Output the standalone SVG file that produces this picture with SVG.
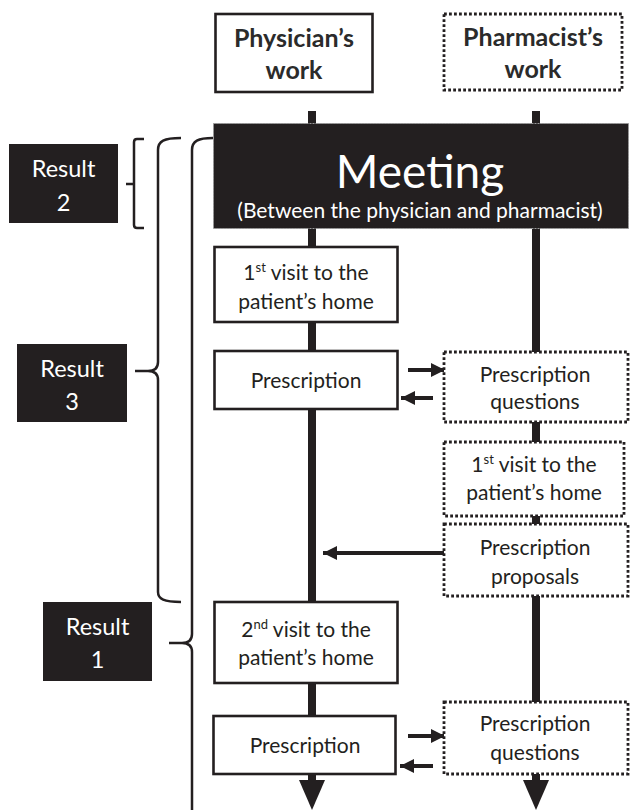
<svg xmlns="http://www.w3.org/2000/svg" width="631" height="810" viewBox="0 0 631 810">
<defs>
<style>
.t{font-family:Lato,"Liberation Sans",sans-serif;fill:#231f20;text-anchor:middle;font-size:21px}
.b{font-weight:bold;font-size:25px;fill:#2b2b2b}
.w{fill:#ffffff}
.r{font-size:23.5px}
.solid{fill:#ffffff;stroke:#231f20;stroke-width:2.6}
.dot{fill:#ffffff;stroke:#231f20;stroke-width:2.8;stroke-dasharray:2.8 2.2}
.dark{fill:#231f20}
.flow{stroke:#231f20;stroke-width:8;fill:none}
.arr{stroke:#231f20;stroke-width:4;fill:none;marker-end:url(#ah)}
.br{stroke:#231f20;stroke-width:2.5;fill:none}
</style>
<marker id="ah" markerUnits="userSpaceOnUse" markerWidth="16" markerHeight="16" refX="14" refY="7" orient="auto">
<path d="M0,0 L14,7 L0,14 Z" fill="#231f20"/>
</marker>
</defs>
<rect width="631" height="810" fill="#ffffff"/>

<g id="connectors">
<line class="flow" x1="312" y1="111" x2="312" y2="782"/>
<line class="flow" x1="536" y1="111" x2="536" y2="782"/>
<polygon class="dark" points="299,780 325,780 312,810"/>
<polygon class="dark" points="523,780 549,780 536,810"/>
<line class="arr" x1="408" y1="370" x2="445" y2="370"/>
<line class="arr" x1="433" y1="398" x2="401" y2="398"/>
<line class="arr" x1="444" y1="553" x2="323" y2="553"/>
<line class="arr" x1="408" y1="736" x2="445" y2="736"/>
<line class="arr" x1="433" y1="766" x2="400" y2="766"/>
</g>

<g id="brackets">
<path class="br" d="M144,139 L137,139 Q134,139 134,142 L134,225 Q134,228 137,228 L144,228 M126,184 L134,184"/>
<path class="br" d="M181,138 C164,138 158,141 158,150 L158,362 C158,368 155,371 148,371 C155,371 158,374 158,380 L158,592 C158,599 164,602 181,602 M135,371 L148,371"/>
<path class="br" d="M213,138 C198,138 192,141 192,150 L192,634 C192,640 189,643 182,643 C189,643 192,646 192,652 L192,812 M169,643 L182,643"/>
</g>

<g id="physician-header">
<rect class="solid" x="215.5" y="14" width="157" height="78"/>
<text class="t b" x="294" y="47">Physician’s</text>
<text class="t b" x="294" y="79">work</text>
</g>
<g id="pharmacist-header">
<rect class="dot" x="444" y="14" width="178" height="76"/>
<text class="t b" x="533" y="46">Pharmacist’s</text>
<text class="t b" x="533" y="78">work</text>
</g>

<g id="meeting">
<rect x="213.5" y="123.5" width="415" height="105" fill="#231f20" stroke="#9a9a9a" stroke-width="1" stroke-dasharray="2 1"/>
<text class="t w" x="420" y="188" style="font-size:46px">Meeting</text>
<text class="t w" x="420" y="218" style="font-size:21px">(Between the physician and pharmacist)</text>
</g>

<g id="result2">
<rect class="dark" x="9" y="144" width="109" height="79"/>
<text class="t w r" x="63.5" y="177">Result</text>
<text class="t w r" x="63.5" y="211">2</text>
</g>
<g id="result3">
<rect class="dark" x="17" y="344" width="110" height="78"/>
<text class="t w r" x="72" y="377">Result</text>
<text class="t w r" x="72" y="410">3</text>
</g>
<g id="result1">
<rect class="dark" x="43" y="602" width="109" height="79"/>
<text class="t w r" x="97.5" y="635">Result</text>
<text class="t w r" x="97.5" y="668">1</text>
</g>

<g id="phys-visit1">
<rect class="solid" x="214.5" y="247" width="183" height="75"/>
<text class="t" x="306" y="280">1<tspan font-size="13" dy="-8">st</tspan><tspan dy="8"> visit to the</tspan></text>
<text class="t" x="306" y="309">patient’s home</text>
</g>
<g id="phys-prescription1">
<rect class="solid" x="214.5" y="351" width="183" height="58"/>
<text class="t" x="306" y="388">Prescription</text>
</g>
<g id="pharm-questions1">
<rect class="dot" x="444" y="352" width="184" height="70"/>
<text class="t" x="535" y="382">Prescription</text>
<text class="t" x="535" y="409">questions</text>
</g>
<g id="pharm-visit1">
<rect class="dot" x="444" y="442" width="180" height="74"/>
<text class="t" x="534" y="472">1<tspan font-size="13" dy="-8">st</tspan><tspan dy="8"> visit to the</tspan></text>
<text class="t" x="534" y="500">patient’s home</text>
</g>
<g id="pharm-proposals">
<rect class="dot" x="444" y="524" width="184" height="72"/>
<text class="t" x="535" y="555">Prescription</text>
<text class="t" x="535" y="584">proposals</text>
</g>
<g id="phys-visit2">
<rect class="solid" x="214.5" y="602" width="183" height="81"/>
<text class="t" x="306" y="637">2<tspan font-size="13" dy="-8">nd</tspan><tspan dy="8"> visit to the</tspan></text>
<text class="t" x="306" y="665">patient’s home</text>
</g>
<g id="phys-prescription2">
<rect class="solid" x="213.5" y="716" width="182" height="58"/>
<text class="t" x="305" y="753">Prescription</text>
</g>
<g id="pharm-questions2">
<rect class="dot" x="444" y="702" width="184" height="72"/>
<text class="t" x="535" y="731">Prescription</text>
<text class="t" x="535" y="760">questions</text>
</g>
</svg>
